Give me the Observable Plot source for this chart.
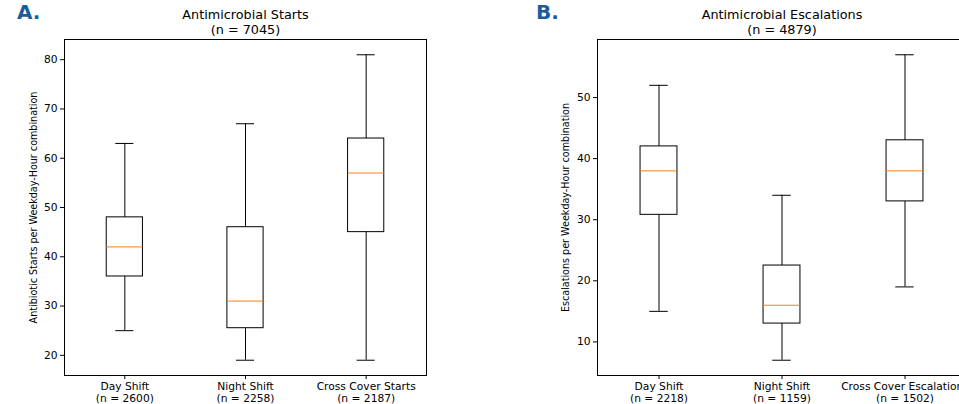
<!DOCTYPE html>
<html><head><meta charset="utf-8">
<script src="https://cdn.jsdelivr.net/npm/d3@7"></script>
<script src="https://cdn.jsdelivr.net/npm/@observablehq/plot@0.6"></script>
<style>
body{margin:0;background:#fff;}
#wrap{position:relative;width:959px;height:404px;overflow:hidden;background:#fff;}
.panel{position:absolute;top:0;}
.letter{position:absolute;top:0px;font:bold 20px "DejaVu Sans";color:#1c5c9c;}
</style></head><body>
<div id="wrap"></div>
<script>
// Panel A: Antimicrobial Starts
const titleA = "Antimicrobial Starts";
const totalA = 7045;
const ylabelA = "Antibiotic Starts per Weekday-Hour combination";
const categoriesA = ["Day Shift", "Night Shift", "Cross Cover Starts"];
const countsA = [2600, 2258, 2187];
const lowA = [25, 19, 19];
const q1A = [36, 25.5, 45];
const medA = [42, 31, 57];
const q3A = [48, 46, 64];
const highA = [63, 67, 81];
const yTicksA = [20, 30, 40, 50, 60, 70, 80];

// Panel B: Antimicrobial Escalations
const titleB = "Antimicrobial Escalations";
const totalB = 4879;
const ylabelB = "Escalations per Weekday-Hour combination";
const categoriesB = ["Day Shift", "Night Shift", "Cross Cover Escalations"];
const countsB = [2218, 1159, 1502];
const lowB = [15, 7, 19];
const q1B = [30.8, 13, 33];
const medB = [38, 16, 38];
const q3B = [42, 22.5, 43];
const highB = [52, 34, 57];
const yTicksB = [10, 20, 30, 40, 50];

function makePanel(o) {
  const rows = o.cats.map((c, i) => ({
    pos: i + 1, cat: c, n: o.counts[i],
    low: o.low[i], q1: o.q1[i], med: o.med[i], q3: o.q3[i], high: o.high[i]
  }));
  const all = [...o.low, ...o.high];
  const lo = d3.min(all), hi = d3.max(all), m = (hi - lo) * 0.05;
  const bw = 0.15, cw = 0.075;
  const font = "DejaVu Sans";
  return Plot.plot({
    width: o.width, height: 404,
    marginLeft: o.ml, marginRight: o.mr, marginTop: 39, marginBottom: 29,
    style: {fontFamily: font, fontSize: "10.7px", color: "#000", background: "transparent", overflow: "visible"},
    x: {domain: [0.5, 3.5]},
    y: {domain: [lo - m, hi + m]},
    marks: [
      Plot.ruleX(rows, {x: "pos", y1: "low", y2: "q1", stroke: "#000", strokeWidth: 1}),
      Plot.ruleX(rows, {x: "pos", y1: "q3", y2: "high", stroke: "#000", strokeWidth: 1}),
      Plot.ruleY(rows, {y: "low", x1: d => d.pos - cw, x2: d => d.pos + cw, stroke: "#000"}),
      Plot.ruleY(rows, {y: "high", x1: d => d.pos - cw, x2: d => d.pos + cw, stroke: "#000"}),
      Plot.rect(rows, {x1: d => d.pos - bw, x2: d => d.pos + bw, y1: "q1", y2: "q3", fill: "none", stroke: "#000", strokeWidth: 1}),
      Plot.ruleY(rows, {y: "med", x1: d => d.pos - bw, x2: d => d.pos + bw, stroke: "#ff7f0e", strokeWidth: 1}),
      Plot.frame({stroke: "#000", strokeWidth: 1}),
      Plot.axisY({ticks: o.yTicks, tickSize: 4, tickPadding: 3, label: null, fontSize: 10.7}),
      Plot.axisX({ticks: [1, 2, 3], tickSize: 4, tickPadding: 2, label: null, lineHeight: 1.1, fontSize: 10.7,
        tickFormat: v => `${o.cats[v - 1]}\n(n = ${o.counts[v - 1]})`}),
      Plot.text([o.ylabel], {frameAnchor: "left", text: d => d, rotate: -90, dx: o.ylabelDx,
        textAnchor: "middle", lineAnchor: "middle", fontSize: 9.6}),
      Plot.text([o.title], {frameAnchor: "top", text: d => d, dy: -25, lineAnchor: "middle", fontSize: 12.8}),
      Plot.text([`(n = ${o.total})`], {frameAnchor: "top", text: d => d, dy: -10, lineAnchor: "middle", fontSize: 12.8})
    ]
  });
}

const wrap = document.getElementById("wrap");

const pA = makePanel({cats: categoriesA, counts: countsA, low: lowA, q1: q1A, med: medA, q3: q3A, high: highA,
  yTicks: yTicksA, title: titleA, total: totalA, ylabel: ylabelA, ylabelDx: -31,
  width: 480, ml: 64, mr: 54});
pA.classList.add("panel"); pA.style.left = "0px";
wrap.appendChild(pA);

const pB = makePanel({cats: categoriesB, counts: countsB, low: lowB, q1: q1B, med: medB, q3: q3B, high: highB,
  yTicks: yTicksB, title: titleB, total: totalB, ylabel: ylabelB, ylabelDx: -32,
  width: 500, ml: 117, mr: 14});
pB.classList.add("panel"); pB.style.left = "480px";
wrap.appendChild(pB);

const la = document.createElement("div"); la.className = "letter"; la.style.left = "17px"; la.textContent = "A."; wrap.appendChild(la);
const lb = document.createElement("div"); lb.className = "letter"; lb.style.left = "536px"; lb.textContent = "B."; wrap.appendChild(lb);
</script>
</body></html>
